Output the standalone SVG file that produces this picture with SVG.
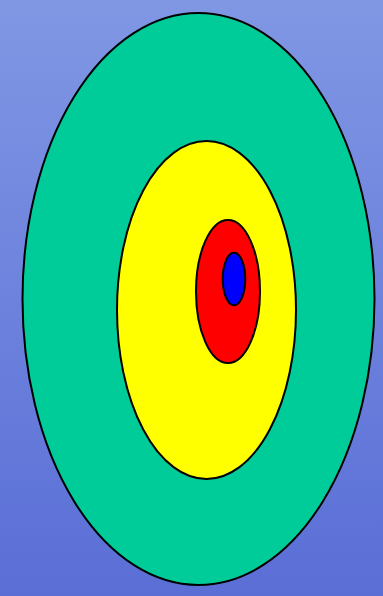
<svg xmlns="http://www.w3.org/2000/svg" width="383" height="596" viewBox="0 0 383 596">
<defs>
<linearGradient id="bg" x1="0" y1="0" x2="0" y2="1">
<stop offset="0" stop-color="#8097e4"/>
<stop offset="1" stop-color="#5a6ed6"/>
</linearGradient>
<style>ellipse{stroke:#000;stroke-width:2}</style>
</defs>
<rect width="383" height="596" fill="url(#bg)"/>
<ellipse id="green" cx="198.5" cy="299" rx="176" ry="286" fill="#00cc99"/>
<ellipse id="yellow" cx="206.5" cy="310" rx="89.5" ry="169" fill="#ffff00"/>
<ellipse id="red" cx="228" cy="291.5" rx="32" ry="71.5" fill="#ff0000"/>
<ellipse id="blue" cx="234" cy="279" rx="11.3" ry="26.3" fill="#0000ff"/>
</svg>
